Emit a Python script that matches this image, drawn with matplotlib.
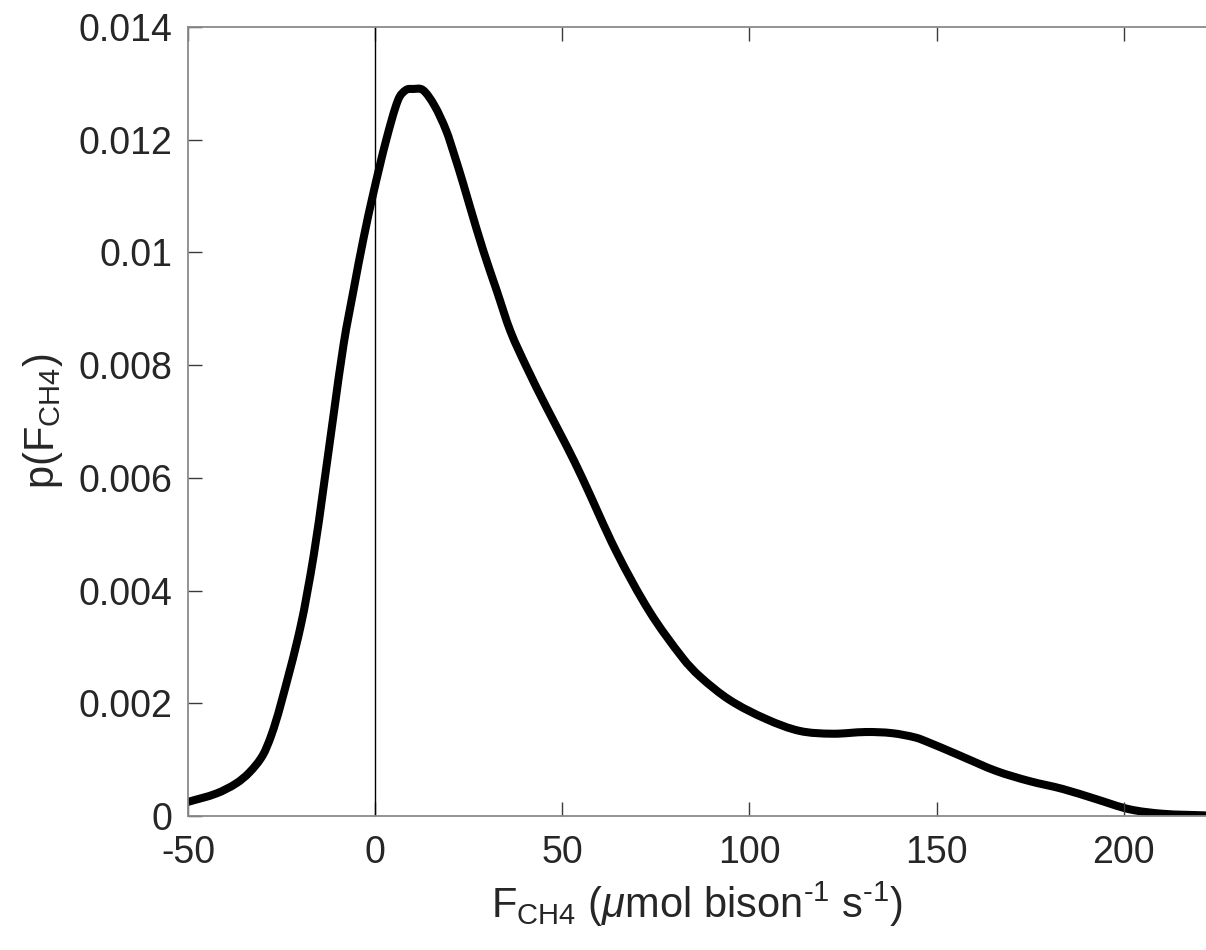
import matplotlib
matplotlib.use("Agg")
import matplotlib.pyplot as plt
from matplotlib.path import Path
from matplotlib.patches import PathPatch

# === Werte ===
flux = [-50, -42.4, -37.1, -33.5, -30, -27.7, -25.3, -19.9, -16.4, -13.7,
        -11.1, -8.4, -5.8, -3.1, -0.45, 2.9, 6.1, 8.2, 10.1, 12.8, 15.9,
        19, 21.3, 23.4, 25.3, 28.9, 32.5, 36.1, 40.5, 45.8, 51.2, 55.4,
        64.3, 73.2, 82.1, 86.7, 94.7, 104.5, 113.4, 122.2, 131.1, 138.1,
        144.5, 148.1, 153.5, 157, 165.9, 174.8, 183.7, 192.6, 201.5,
        210.4, 222]
density = [0.00025, 0.0004, 0.00058, 0.00078, 0.00108, 0.00144, 0.00196,
           0.00337, 0.00463, 0.00587, 0.00712, 0.00838, 0.00932, 0.01025,
           0.01106, 0.01198, 0.0127, 0.01288, 0.0129, 0.01288, 0.0126,
           0.01216, 0.0117, 0.01125, 0.01082, 0.01003, 0.00932, 0.00861,
           0.00796, 0.00725, 0.00656, 0.00599, 0.00471, 0.00364, 0.00281,
           0.00248, 0.00206, 0.00172, 0.00151, 0.00146, 0.00149, 0.00147,
           0.00139, 0.0013, 0.00115, 0.00105, 0.0008, 0.00062, 0.00048,
           0.0003, 0.00012, 0.00004, 0.00001]

xticks = [-50, 0, 50, 100, 150, 200]
yticks = [0, 0.002, 0.004, 0.006, 0.008, 0.01, 0.012, 0.014]
ytick_labels = ["0", "0.002", "0.004", "0.006", "0.008", "0.01", "0.012", "0.014"]


# === glatte Kurve durch die Punkte (kubische Bezier-Segmente) ===
def smooth_path(x, y):
    n = len(x)
    slopes = []
    for i in range(n):
        a = max(i - 1, 0)
        b = min(i + 1, n - 1)
        slopes.append((y[b] - y[a]) / (x[b] - x[a]))
    verts = [(x[0], y[0])]
    codes = [Path.MOVETO]
    for i in range(n - 1):
        h = x[i + 1] - x[i]
        verts += [(x[i] + h / 3, y[i] + slopes[i] * h / 3),
                  (x[i + 1] - h / 3, y[i + 1] - slopes[i + 1] * h / 3),
                  (x[i + 1], y[i + 1])]
        codes += [Path.CURVE4] * 3
    return Path(verts, codes)


# === Stil ===
plt.rcParams["font.family"] = ["Liberation Sans", "DejaVu Sans"]
plt.rcParams["mathtext.fontset"] = "custom"
plt.rcParams["mathtext.rm"] = "Liberation Sans"
plt.rcParams["mathtext.it"] = "Liberation Sans:italic"
plt.rcParams["axes.unicode_minus"] = False

text_col = "#262626"
axis_col = "#8a8a8a"

fig = plt.figure(figsize=(12.06, 9.5), dpi=100)
ax = fig.add_axes([188 / 1206, 1 - 816 / 950, 1 - 188 / 1206, (816 - 27) / 950])

curve = PathPatch(smooth_path(flux, density), fill=False, edgecolor="black",
                  lw=5.8, joinstyle="round", capstyle="butt")
ax.add_patch(curve)
ax.axvline(0, color="black", lw=1.0)

ax.set_xlim(-50, 222)
ax.set_ylim(0, 0.014)
ax.set_xticks(xticks)
ax.set_xticklabels([str(t) for t in xticks])
ax.set_yticks(yticks)
ax.set_yticklabels(ytick_labels)

for side in ["left", "bottom", "top"]:
    ax.spines[side].set_color(axis_col)
    ax.spines[side].set_linewidth(1.3)
ax.spines["right"].set_visible(False)

ax.tick_params(axis="both", direction="in", length=10, width=1.0, color="#3a3a3a",
               labelsize=27, labelcolor=text_col, top=True, right=False)
ax.tick_params(axis="x", pad=14)
ax.tick_params(axis="y", pad=11)

ax.set_xlabel("F$_{\\rm CH4}$ ($\\mu$mol bison$^{\u20101}$ s$^{\u20101}$)",
              fontsize=30, color=text_col, labelpad=6)
ax.set_ylabel(r"p(F$_{\rm CH4}$)", fontsize=30, color=text_col, labelpad=10)

fig.savefig("out.png", dpi=100)
plt.close(fig)
